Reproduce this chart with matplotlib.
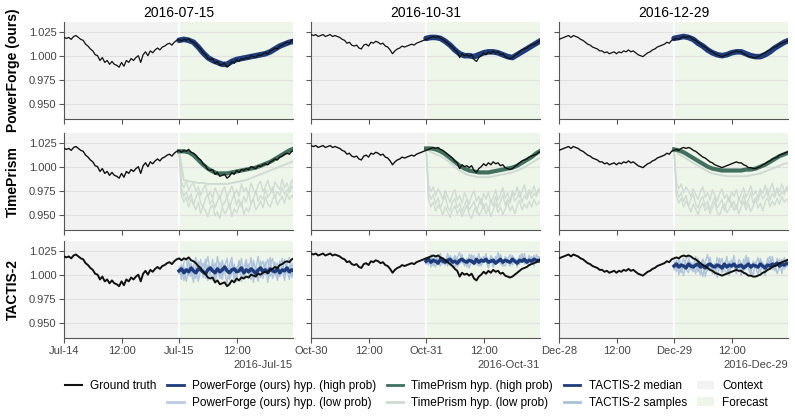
import numpy as np
import pandas as pd
import matplotlib
matplotlib.use('Agg')
import matplotlib.pyplot as plt
import matplotlib.dates as mdates
from matplotlib.lines import Line2D
from matplotlib.patches import Patch
from matplotlib.ticker import NullFormatter

plt.rcParams['font.family'] = ['Liberation Sans', 'DejaVu Sans']

titles = ['2016-07-15', '2016-10-31', '2016-12-29']
starts = ['2016-07-14', '2016-10-30', '2016-12-28']
row_names = ['PowerForge (ours)', 'TimePrism', 'TACTIS-2']
yticks = [0.950, 0.975, 1.000, 1.025]

# ground truth, every 30 min over two days (context day + forecast day)
gt_jul = [1.019, 1.018, 1.019, 1.017, 1.020, 1.021, 1.019, 1.017, 1.016, 1.012,
          1.010, 1.007, 1.005, 1.001, 1.000, 0.995, 0.998, 0.993, 0.995, 0.991,
          0.994, 0.991, 0.990, 0.988, 0.993, 0.989, 0.995, 0.993, 0.997, 0.995,
          0.998, 1.000, 0.993, 1.001, 1.004, 1.000, 1.005, 1.003, 1.006, 1.008,
          1.006, 1.009, 1.010, 1.012, 1.013, 1.011, 1.014, 1.016, 1.017,
          1.015, 1.017, 1.016, 1.018, 1.015, 1.014, 1.012, 1.009, 1.007, 1.003,
          1.001, 0.997, 0.996, 0.997, 0.992, 0.994, 0.990, 0.991, 0.992, 0.988,
          0.990, 0.994, 0.992, 0.996, 0.994, 0.997, 0.996, 0.998, 0.997, 1.000,
          0.999, 0.998, 1.001, 1.000, 1.002, 1.003, 1.002, 1.005, 1.006, 1.008,
          1.007, 1.010, 1.011, 1.013, 1.014, 1.013, 1.016, 1.017]
gt_oct = [1.022, 1.021, 1.022, 1.020, 1.021, 1.022, 1.020, 1.021, 1.022, 1.020,
          1.021, 1.020, 1.019, 1.017, 1.016, 1.013, 1.014, 1.011, 1.010, 1.011,
          1.008, 1.007, 1.011, 1.012, 1.010, 1.014, 1.013, 1.015, 1.014, 1.012,
          1.013, 1.010, 1.009, 1.006, 1.002, 1.005, 1.007, 1.008, 1.010, 1.009,
          1.010, 1.011, 1.012, 1.011, 1.013, 1.014, 1.015, 1.016, 1.017,
          1.018, 1.019, 1.020, 1.019, 1.020, 1.018, 1.017, 1.015, 1.013, 1.011,
          1.009, 1.006, 1.004, 0.998, 1.002, 1.000, 1.001, 0.999, 1.001, 0.996,
          0.994, 0.998, 1.000, 1.003, 1.001, 1.004, 1.002, 1.005, 1.003, 1.004,
          1.001, 1.002, 0.999, 0.998, 0.997, 0.998, 1.000, 1.002, 1.004, 1.006,
          1.007, 1.008, 1.010, 1.011, 1.012, 1.013, 1.015, 1.016]
gt_dec = [1.017, 1.018, 1.019, 1.020, 1.021, 1.019, 1.021, 1.020, 1.019, 1.017,
          1.016, 1.014, 1.012, 1.011, 1.009, 1.008, 1.007, 1.005, 1.005, 1.003,
          1.004, 1.002, 1.003, 1.004, 1.002, 1.004, 1.003, 1.005, 1.004, 1.006,
          1.004, 1.005, 1.003, 1.001, 1.000, 0.999, 1.001, 1.003, 1.004, 1.006,
          1.007, 1.009, 1.010, 1.011, 1.012, 1.014, 1.013, 1.016, 1.017,
          1.018, 1.017, 1.019, 1.020, 1.019, 1.020, 1.019, 1.017, 1.016, 1.014,
          1.012, 1.010, 1.009, 1.007, 1.005, 1.004, 1.002, 1.001, 1.000, 0.999,
          1.000, 1.001, 1.002, 1.003, 1.004, 1.005, 1.004, 1.004, 1.002, 1.001,
          0.999, 0.999, 0.998, 0.998, 0.999, 1.000, 1.002, 1.003, 1.005, 1.006,
          1.008, 1.009, 1.010, 1.012, 1.013, 1.014, 1.015, 1.016]

# PowerForge high-probability hypothesis, hourly over the forecast day
pf_high_jul = [1.016, 1.017, 1.016, 1.014, 1.009, 1.003, 0.998, 0.995, 0.993, 0.991,
               0.991, 0.994, 0.996, 0.997, 0.998, 0.999, 1.000, 1.001, 1.002, 1.004,
               1.007, 1.010, 1.012, 1.014, 1.015]
pf_high_oct = [1.018, 1.019, 1.019, 1.018, 1.015, 1.011, 1.006, 1.002, 1.000, 1.000,
               0.999, 1.001, 1.003, 1.004, 1.004, 1.003, 1.001, 0.999, 0.998, 1.001,
               1.004, 1.007, 1.010, 1.013, 1.016]
pf_high_dec = [1.018, 1.019, 1.020, 1.019, 1.017, 1.013, 1.010, 1.006, 1.003, 1.001,
               1.000, 1.001, 1.003, 1.004, 1.004, 1.002, 1.000, 0.999, 0.999, 1.001,
               1.004, 1.008, 1.011, 1.014, 1.016]

# TimePrism hypotheses
tp_high_jul = [1.016, 1.016, 1.015, 1.012, 1.007, 1.002, 0.998, 0.995, 0.993, 0.993,
               0.993, 0.994, 0.995, 0.996, 0.997, 0.998, 0.999, 1.001, 1.003, 1.005,
               1.008, 1.011, 1.014, 1.017, 1.019]
tp_high_oct = [1.019, 1.019, 1.018, 1.016, 1.013, 1.009, 1.005, 1.001, 0.998, 0.996,
               0.995, 0.994, 0.994, 0.994, 0.995, 0.996, 0.997, 0.998, 0.999, 1.001,
               1.004, 1.007, 1.010, 1.014, 1.017]
tp_high_dec = [1.018, 1.017, 1.015, 1.012, 1.009, 1.006, 1.003, 1.000, 0.998, 0.997,
               0.996, 0.996, 0.996, 0.996, 0.996, 0.997, 0.997, 0.998, 1.000, 1.002,
               1.005, 1.008, 1.011, 1.013, 1.015]
tp_low_jul = [1.016, 0.986, 0.985, 0.984, 0.983, 0.983, 0.982, 0.982, 0.982, 0.982,
              0.982, 0.983, 0.984, 0.985, 0.986, 0.988, 0.990, 0.992, 0.994, 0.996,
              0.998, 1.000, 1.002, 1.004, 1.006]
tp_low_oct = [1.019, 1.015, 1.013, 1.011, 1.008, 1.004, 1.000, 0.996, 0.993, 0.991,
              0.990, 0.989, 0.989, 0.989, 0.990, 0.991, 0.992, 0.993, 0.994, 0.996,
              0.998, 1.001, 1.004, 1.007, 1.010]
tp_low_dec = [1.018, 1.013, 1.010, 1.007, 1.004, 1.001, 0.998, 0.995, 0.993, 0.992,
              0.991, 0.990, 0.990, 0.990, 0.990, 0.990, 0.991, 0.992, 0.993, 0.995,
              0.997, 0.999, 1.001, 1.003, 1.004]
tp_noisy_a_jul = [1.016, 0.984, 0.978, 0.986, 0.975, 0.981, 0.983, 0.974, 0.979, 0.970,
                  0.977, 0.981, 0.969, 0.974, 0.967, 0.978, 0.972, 0.966, 0.975, 0.979,
                  0.968, 0.973, 0.980, 0.971, 0.976, 0.969, 0.982, 0.974, 0.978, 0.971,
                  0.983, 0.976, 0.972, 0.981, 0.985, 0.974, 0.979, 0.986, 0.977, 0.973,
                  0.984, 0.980, 0.976, 0.987, 0.978, 0.983, 0.975, 0.986, 0.981]
tp_noisy_b_jul = [1.016, 0.970, 0.963, 0.968, 0.958, 0.966, 0.961, 0.955, 0.963, 0.951,
                  0.959, 0.954, 0.948, 0.957, 0.960, 0.949, 0.953, 0.946, 0.958, 0.951,
                  0.955, 0.962, 0.948, 0.956, 0.952, 0.959, 0.963, 0.950, 0.957, 0.953,
                  0.961, 0.966, 0.955, 0.959, 0.964, 0.957, 0.969, 0.961, 0.958, 0.966,
                  0.971, 0.960, 0.965, 0.969, 0.962, 0.972, 0.966, 0.970, 0.967]
tp_noisy_c_jul = [1.016, 0.977, 0.969, 0.974, 0.965, 0.972, 0.960, 0.968, 0.974, 0.962,
                  0.958, 0.967, 0.971, 0.961, 0.966, 0.957, 0.964, 0.970, 0.959, 0.963,
                  0.968, 0.956, 0.965, 0.971, 0.960, 0.966, 0.958, 0.969, 0.963, 0.973,
                  0.962, 0.967, 0.975, 0.964, 0.970, 0.966, 0.976, 0.968, 0.972, 0.979,
                  0.967, 0.974, 0.970, 0.978, 0.971, 0.976, 0.973, 0.980, 0.975]
tp_noisy_a_oct = [1.019, 0.981, 0.974, 0.979, 0.970, 0.977, 0.972, 0.966, 0.975, 0.969,
                  0.963, 0.971, 0.976, 0.965, 0.970, 0.962, 0.973, 0.967, 0.961, 0.970,
                  0.975, 0.964, 0.969, 0.960, 0.972, 0.966, 0.974, 0.963, 0.968, 0.976,
                  0.965, 0.971, 0.978, 0.967, 0.973, 0.964, 0.975, 0.970, 0.979, 0.968,
                  0.974, 0.981, 0.969, 0.976, 0.972, 0.980, 0.971, 0.977, 0.974]
tp_noisy_b_oct = [1.019, 0.966, 0.958, 0.963, 0.954, 0.960, 0.956, 0.950, 0.958, 0.953,
                  0.947, 0.955, 0.959, 0.951, 0.956, 0.948, 0.954, 0.960, 0.950, 0.946,
                  0.955, 0.958, 0.949, 0.953, 0.961, 0.951, 0.957, 0.948, 0.955, 0.962,
                  0.952, 0.958, 0.950, 0.956, 0.963, 0.954, 0.959, 0.951, 0.960, 0.965,
                  0.955, 0.961, 0.957, 0.964, 0.958, 0.966, 0.960, 0.963, 0.962]
tp_noisy_c_oct = [1.019, 0.973, 0.966, 0.971, 0.961, 0.968, 0.957, 0.964, 0.970, 0.958,
                  0.954, 0.963, 0.967, 0.957, 0.962, 0.953, 0.960, 0.966, 0.955, 0.959,
                  0.964, 0.952, 0.961, 0.967, 0.956, 0.962, 0.954, 0.965, 0.959, 0.969,
                  0.958, 0.963, 0.971, 0.960, 0.966, 0.962, 0.972, 0.964, 0.968, 0.975,
                  0.963, 0.970, 0.966, 0.974, 0.967, 0.972, 0.969, 0.976, 0.971]
tp_noisy_a_dec = [1.018, 0.983, 0.977, 0.982, 0.973, 0.979, 0.975, 0.969, 0.977, 0.971,
                  0.966, 0.974, 0.979, 0.968, 0.973, 0.965, 0.976, 0.970, 0.964, 0.972,
                  0.977, 0.967, 0.971, 0.963, 0.974, 0.969, 0.976, 0.966, 0.971, 0.978,
                  0.968, 0.973, 0.980, 0.970, 0.975, 0.967, 0.977, 0.972, 0.981, 0.970,
                  0.976, 0.983, 0.971, 0.978, 0.974, 0.982, 0.973, 0.979, 0.977]
tp_noisy_b_dec = [1.018, 0.970, 0.962, 0.967, 0.958, 0.964, 0.959, 0.953, 0.961, 0.956,
                  0.950, 0.958, 0.962, 0.954, 0.959, 0.951, 0.957, 0.963, 0.953, 0.949,
                  0.957, 0.961, 0.952, 0.956, 0.963, 0.954, 0.960, 0.951, 0.958, 0.964,
                  0.955, 0.961, 0.953, 0.959, 0.966, 0.957, 0.962, 0.954, 0.963, 0.968,
                  0.958, 0.964, 0.960, 0.967, 0.961, 0.969, 0.963, 0.966, 0.965]
tp_noisy_c_dec = [1.018, 0.976, 0.968, 0.973, 0.964, 0.970, 0.959, 0.966, 0.972, 0.961,
                  0.957, 0.965, 0.969, 0.959, 0.964, 0.955, 0.962, 0.968, 0.957, 0.961,
                  0.966, 0.954, 0.963, 0.969, 0.958, 0.964, 0.956, 0.967, 0.961, 0.971,
                  0.960, 0.965, 0.973, 0.962, 0.968, 0.964, 0.974, 0.966, 0.970, 0.977,
                  0.965, 0.972, 0.968, 0.976, 0.969, 0.974, 0.971, 0.978, 0.973]

# TACTIS-2 median and samples, every 30 min over the forecast day
tac_med_jul = [1.004, 1.006, 1.002, 1.005, 1.003, 1.007, 1.004, 1.002, 1.006, 1.005,
               1.003, 1.001, 1.005, 1.007, 1.004, 1.002, 1.006, 1.003, 1.005, 1.008,
               1.004, 1.002, 1.005, 1.006, 1.003, 1.004, 1.007, 1.002, 1.005, 1.003,
               1.006, 1.004, 1.001, 1.005, 1.007, 1.003, 1.005, 1.002, 1.006, 1.004,
               1.003, 1.006, 1.002, 1.005, 1.004, 1.007, 1.003, 1.005, 1.004]
tac_med_oct = [1.014, 1.016, 1.013, 1.015, 1.014, 1.012, 1.016, 1.014, 1.013, 1.015,
               1.016, 1.013, 1.014, 1.012, 1.015, 1.016, 1.014, 1.013, 1.015, 1.014,
               1.012, 1.016, 1.013, 1.015, 1.014, 1.016, 1.013, 1.014, 1.015, 1.012,
               1.014, 1.016, 1.013, 1.015, 1.014, 1.013, 1.016, 1.014, 1.012, 1.015,
               1.014, 1.016, 1.013, 1.015, 1.014, 1.016, 1.015, 1.014, 1.016]
tac_med_dec = [1.009, 1.011, 1.008, 1.010, 1.009, 1.007, 1.011, 1.009, 1.008, 1.010,
               1.011, 1.008, 1.009, 1.007, 1.010, 1.011, 1.009, 1.008, 1.010, 1.009,
               1.007, 1.011, 1.008, 1.010, 1.009, 1.011, 1.008, 1.009, 1.010, 1.007,
               1.009, 1.011, 1.008, 1.010, 1.009, 1.008, 1.011, 1.009, 1.007, 1.010,
               1.009, 1.011, 1.010, 1.012, 1.009, 1.011, 1.010, 1.012, 1.011]
tac_s1_jul = [1.008, 0.995, 1.013, 1.017, 0.999, 1.006, 0.992, 1.011, 1.003, 1.016,
              0.997, 1.009, 1.019, 1.001, 0.994, 1.012, 1.007, 0.996, 1.015, 1.004,
              0.991, 1.010, 1.018, 0.998, 1.005, 1.014, 0.993, 1.008, 1.016, 1.000,
              0.995, 1.012, 1.006, 1.019, 0.997, 1.003, 1.013, 0.992, 1.009, 1.017,
              1.001, 0.996, 1.014, 1.007, 0.994, 1.011, 1.018, 0.999, 1.006]
tac_s2_jul = [1.001, 1.011, 0.994, 1.003, 1.015, 0.998, 1.008, 1.018, 0.993, 1.005,
              1.012, 0.996, 1.010, 1.001, 1.016, 0.991, 1.004, 1.013, 0.999, 1.009,
              1.017, 0.995, 1.002, 1.011, 0.993, 1.015, 1.006, 0.997, 1.012, 1.004,
              1.018, 0.992, 1.007, 1.001, 1.014, 0.996, 1.010, 1.016, 0.998, 1.003,
              1.013, 0.994, 1.008, 1.017, 1.000, 1.005, 0.995, 1.012, 1.003]
tac_s3_jul = [1.004, 0.999, 1.009, 0.993, 1.006, 1.012, 1.001, 0.996, 1.014, 1.007,
              1.000, 1.016, 0.994, 1.005, 1.011, 0.998, 1.019, 1.003, 0.995, 1.010,
              1.006, 1.001, 1.013, 0.994, 1.008, 1.002, 1.017, 0.997, 1.004, 1.011,
              0.999, 1.015, 1.003, 0.993, 1.009, 1.014, 1.000, 1.006, 1.018, 0.996,
              1.005, 1.012, 0.998, 1.003, 1.016, 1.002, 1.009, 0.997, 1.008]
tac_s1_oct = [1.017, 1.010, 1.021, 1.013, 1.008, 1.019, 1.022, 1.011, 1.016, 1.009,
              1.020, 1.014, 1.007, 1.018, 1.023, 1.012, 1.015, 1.008, 1.021, 1.017,
              1.010, 1.013, 1.022, 1.009, 1.018, 1.014, 1.007, 1.020, 1.016, 1.011,
              1.023, 1.012, 1.009, 1.019, 1.015, 1.021, 1.010, 1.017, 1.008, 1.020,
              1.013, 1.022, 1.011, 1.016, 1.019, 1.009, 1.021, 1.014, 1.018]
tac_s2_oct = [1.011, 1.018, 1.008, 1.015, 1.020, 1.012, 1.009, 1.017, 1.013, 1.022,
              1.010, 1.016, 1.019, 1.008, 1.014, 1.021, 1.011, 1.017, 1.007, 1.015,
              1.020, 1.012, 1.009, 1.018, 1.013, 1.022, 1.010, 1.016, 1.008, 1.019,
              1.014, 1.021, 1.011, 1.009, 1.017, 1.012, 1.020, 1.015, 1.010, 1.018,
              1.022, 1.011, 1.016, 1.009, 1.014, 1.020, 1.012, 1.017, 1.015]
tac_s3_oct = [1.014, 1.012, 1.018, 1.009, 1.016, 1.011, 1.019, 1.014, 1.010, 1.017,
              1.013, 1.008, 1.020, 1.015, 1.011, 1.018, 1.009, 1.016, 1.013, 1.021,
              1.012, 1.017, 1.014, 1.010, 1.019, 1.015, 1.012, 1.018, 1.010, 1.016,
              1.013, 1.020, 1.011, 1.017, 1.014, 1.009, 1.018, 1.013, 1.016, 1.011,
              1.019, 1.015, 1.012, 1.020, 1.013, 1.017, 1.015, 1.019, 1.016]
tac_s1_dec = [1.014, 1.003, 1.018, 1.008, 0.999, 1.016, 1.020, 1.005, 1.011, 1.001,
              1.017, 1.009, 0.998, 1.013, 1.021, 1.004, 1.010, 1.000, 1.018, 1.012,
              1.002, 1.007, 1.019, 0.999, 1.015, 1.009, 1.001, 1.016, 1.012, 1.003,
              1.020, 1.006, 1.000, 1.014, 1.010, 1.018, 1.002, 1.013, 0.999, 1.017,
              1.007, 1.019, 1.004, 1.012, 1.016, 1.001, 1.018, 1.008, 1.014]
tac_s2_dec = [1.005, 1.015, 1.000, 1.010, 1.017, 1.006, 1.002, 1.013, 1.008, 1.019,
              1.003, 1.011, 1.016, 0.998, 1.009, 1.018, 1.004, 1.012, 0.997, 1.010,
              1.017, 1.005, 1.001, 1.014, 1.007, 1.020, 1.003, 1.011, 0.999, 1.016,
              1.008, 1.018, 1.004, 1.000, 1.013, 1.006, 1.017, 1.010, 1.002, 1.015,
              1.019, 1.005, 1.012, 1.001, 1.009, 1.016, 1.006, 1.013, 1.011]
tac_s3_dec = [1.009, 1.007, 1.013, 1.002, 1.011, 1.005, 1.015, 1.008, 1.003, 1.012,
              1.007, 1.000, 1.016, 1.010, 1.004, 1.014, 1.001, 1.011, 1.006, 1.017,
              1.003, 1.012, 1.008, 1.002, 1.015, 1.009, 1.005, 1.013, 1.001, 1.010,
              1.006, 1.016, 1.003, 1.012, 1.008, 1.000, 1.014, 1.007, 1.011, 1.004,
              1.015, 1.009, 1.005, 1.017, 1.006, 1.012, 1.009, 1.015, 1.011]

C_GT = '#111111'
C_PF = '#1e3b7b'
C_PF_LOW = '#b9cbe2'
C_TP = '#41705f'
C_TP_LOW = '#cdd9d1'
C_TAC = '#1e3b7b'
C_TAC_S = '#a9c0dd'
C_CTX = '#f2f2f2'
C_FC = '#eef5e9'


def times(start, n, step_min, offset_h=0):
	return pd.Timestamp(start) + pd.to_timedelta(offset_h * 60 + step_min * np.arange(n), unit='min')


def style_axes(ax, start, row, col):
	t0 = pd.Timestamp(start)
	split = t0 + pd.Timedelta(hours=24)
	ax.axvspan(t0, split, color=C_CTX, lw=0, zorder=0)
	ax.axvspan(split, t0 + pd.Timedelta(hours=48), color=C_FC, lw=0, zorder=0)
	ax.axvline(split, color='white', lw=1.2, zorder=0.6)
	ax.set_axisbelow(True)
	ax.grid(axis='y', color='#e0e0e0', lw=0.8)
	ax.set_ylim(0.934, 1.035)
	ax.set_yticks(yticks)
	ax.yaxis.set_major_formatter(plt.FormatStrFormatter('%.3f'))
	ax.set_xlim(t0, t0 + pd.Timedelta(hours=47.75))
	loc = mdates.HourLocator(byhour=[0, 12])
	ax.xaxis.set_major_locator(loc)
	if row == 2:
		ax.xaxis.set_major_formatter(mdates.ConciseDateFormatter(loc))
	else:
		ax.xaxis.set_major_formatter(NullFormatter())
	for s in ['top', 'right']:
		ax.spines[s].set_visible(False)
	for s in ['left', 'bottom']:
		ax.spines[s].set_color('#555555')
		ax.spines[s].set_linewidth(0.8)
	ax.tick_params(labelsize=8, labelcolor='#444444', color='#555555', length=3.5, width=0.8, pad=2)
	ax.xaxis.get_offset_text().set_size(8)
	ax.xaxis.get_offset_text().set_color('#444444')
	if col > 0:
		ax.tick_params(labelleft=False)
	else:
		ax.set_ylabel(row_names[row], fontsize=10, fontweight='bold', labelpad=6)
	if row == 0:
		ax.set_title(titles[col], fontsize=10, pad=4)


def main():
	gt = [gt_jul, gt_oct, gt_dec]
	pf_high = [pf_high_jul, pf_high_oct, pf_high_dec]
	tp_high = [tp_high_jul, tp_high_oct, tp_high_dec]
	tp_low = [tp_low_jul, tp_low_oct, tp_low_dec]
	tp_noisy = [[tp_noisy_a_jul, tp_noisy_b_jul, tp_noisy_c_jul],
	            [tp_noisy_a_oct, tp_noisy_b_oct, tp_noisy_c_oct],
	            [tp_noisy_a_dec, tp_noisy_b_dec, tp_noisy_c_dec]]
	tac_med = [tac_med_jul, tac_med_oct, tac_med_dec]
	tac_samples = [[tac_s1_jul, tac_s2_jul, tac_s3_jul], [tac_s1_oct, tac_s2_oct, tac_s3_oct],
	               [tac_s1_dec, tac_s2_dec, tac_s3_dec]]

	fig = plt.figure(figsize=(7.95, 4.16), dpi=100)
	lefts = [0.0805, 0.3912, 0.7031]
	bottoms = [0.7139, 0.4471, 0.1875]
	for col in range(3):
		start = starts[col]
		t_gt = times(start, len(gt[col]), 30)
		for row in range(3):
			ax = fig.add_axes([lefts[col], bottoms[row], 0.288, 0.233])
			style_axes(ax, start, row, col)
			if row == 0:
				ax.plot(times(start, len(pf_high[col]), 60, 24), pf_high[col], color=C_PF, lw=4, zorder=3,
				        solid_capstyle='round')
				ax.plot(t_gt, gt[col], color=C_GT, lw=0.9, zorder=4)
			elif row == 1:
				for y in tp_noisy[col]:
					ax.plot(times(start, len(y), 30, 24), y, color=C_TP_LOW, lw=1.0, alpha=0.9, zorder=2)
				ax.plot(times(start, len(tp_low[col]), 60, 24), tp_low[col], color=C_TP_LOW, lw=1.3, zorder=2)
				ax.plot(times(start, len(tp_high[col]), 60, 24), tp_high[col], color=C_TP, lw=3, zorder=3)
				ax.plot(t_gt, gt[col], color=C_GT, lw=1.0, zorder=4)
			else:
				for y in tac_samples[col]:
					ax.plot(times(start, len(y), 30, 24), y, color=C_TAC_S, lw=1.0, alpha=0.9, zorder=2)
				ax.plot(times(start, len(tac_med[col]), 30, 24), tac_med[col], color=C_TAC, lw=2.5, zorder=3)
				ax.plot(t_gt, gt[col], color=C_GT, lw=1.4, zorder=4)

	handles = [
		Line2D([], [], color=C_GT, lw=1.5),
		Line2D([], [], color='none'),
		Line2D([], [], color=C_PF, lw=2),
		Line2D([], [], color=C_PF_LOW, lw=2),
		Line2D([], [], color=C_TP, lw=2),
		Line2D([], [], color=C_TP_LOW, lw=2),
		Line2D([], [], color=C_TAC, lw=2),
		Line2D([], [], color=C_TAC_S, lw=2),
		Patch(facecolor=C_CTX, edgecolor='none'),
		Patch(facecolor=C_FC, edgecolor='none'),
	]
	labels = ['Ground truth', '', 'PowerForge (ours) hyp. (high prob)', 'PowerForge (ours) hyp. (low prob)',
	          'TimePrism hyp. (high prob)', 'TimePrism hyp. (low prob)', 'TACTIS-2 median',
	          'TACTIS-2 samples', 'Context', 'Forecast']
	fig.legend(handles, labels, loc='center', bbox_to_anchor=(0.524, 0.052), ncol=5, frameon=False,
	           fontsize=8.5, handlelength=1.4, handletextpad=0.7, columnspacing=0.9, labelspacing=0.4)
	fig.savefig('out.png', dpi=100)


if __name__ == '__main__':
	main()
